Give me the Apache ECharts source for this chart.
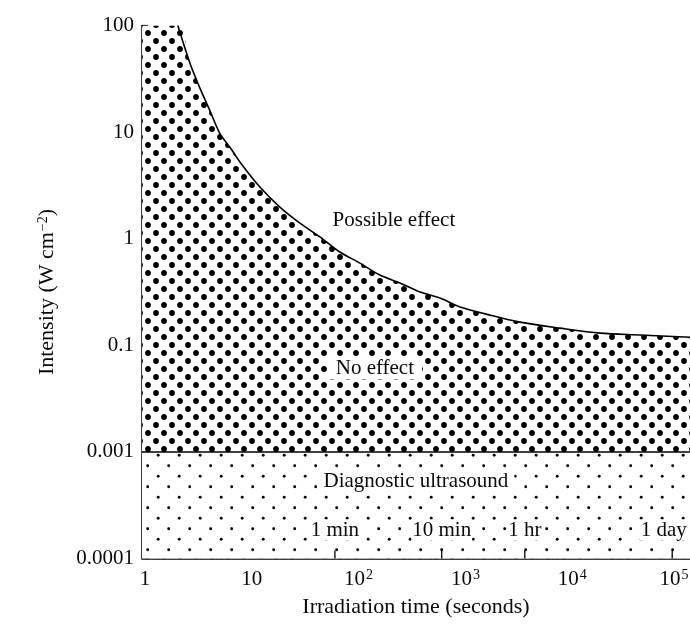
<!DOCTYPE html>
<html><head><meta charset="utf-8">
<script src="https://cdn.jsdelivr.net/npm/echarts@6/dist/echarts.min.js"></script>
<style>html,body{margin:0;padding:0;background:#fff}#c{width:690px;height:626px}</style>
</head><body><div id="c"></div>
<script>
// ---- data ----
const xTickValues = [1, 10, 100, 1000, 10000, 100000];
const yTickLabels = ['0.0001', '0.001', '0.1', '1', '10', '100'];
const yTickValues = [0.0001, 0.001, 0.1, 1, 10, 100];
const xRange = [0.937, 126800];
// threshold curve: irradiation time (s) vs intensity (W cm^-2)
const curveTime = [2.03, 2.63, 3.26, 4.04, 5.0, 6.5, 7.73, 11.9, 18.3, 28.2, 43.4, 66.7, 103, 158, 244, 376, 578, 891, 1700, 3240, 7670, 18200, 43100, 126800];
const curveIntensity = [100, 44.5, 26, 16, 9.8, 6.8, 5.25, 3.05, 1.98, 1.40, 1.04, 0.75, 0.59, 0.456, 0.384, 0.316, 0.278, 0.229, 0.192, 0.165, 0.145, 0.130, 0.125, 0.119];
const diagnosticLimit = 0.001;
const timeMarks = [60, 600, 3600, 86400];
const timeMarkNames = ['1 min', '10 min', '1 hr', '1 day'];
const timeMarkLabelTime = [60, 600, 3600, 72000];
const timeMarkLabelIntensity = 0.000185;
const regionNames = ['Possible effect', 'No effect', 'Diagnostic ultrasound'];
const regionLabelTime = [214, 142, 344];
const regionLabelIntensity = [1.47, 0.0375, 0.000533];

// map an intensity onto the (piecewise-labelled) vertical axis
function toPos(I) {
  const L = Math.log10(I);
  for (let i = 0; i < yTickValues.length - 1; i++) {
    const a = Math.log10(yTickValues[i]), b = Math.log10(yTickValues[i + 1]);
    if (L <= b + 1e-9 || i === yTickValues.length - 2) return i + (L - a) / (b - a);
  }
}

function makePattern(w, h, dots, r) {
  const c = document.createElement('canvas'); c.width = w; c.height = h;
  const g = c.getContext('2d');
  g.fillStyle = '#fff'; g.fillRect(0, 0, w, h);
  g.fillStyle = '#000';
  dots.forEach(([x, y]) => {
    for (let dx = -w; dx <= w; dx += w) for (let dy = -h; dy <= h; dy += h) {
      g.beginPath(); g.arc(x + dx, y + dy, r, 0, Math.PI * 2); g.fill();
    }
  });
  return c;
}
const densePat = makePattern(16, 16, [[12, 9], [4, 1]], 2.9);
const sparsePat = makePattern(21, 21, [[0.7, 3.7], [11.2, 14.2]], 1.45);

const FONT = 'Liberation Serif';
const TXT = '#0a0a0a';
const curveData = curveTime.map((t, i) => [t, toPos(curveIntensity[i])]);
const fillData = [[xRange[0], toPos(yTickValues[5])], [curveTime[0], toPos(yTickValues[5])]].concat(curveData);
const diagLine = [[xRange[0], toPos(diagnosticLimit)], [xRange[1], toPos(diagnosticLimit)]];

function xLabel(v) {
  const e = Math.round(Math.log10(v));
  if (Math.abs(Math.log10(v) - e) > 1e-6 || xTickValues.indexOf(Math.pow(10, e)) < 0) return '';
  if (e === 0) return '1';
  if (e === 1) return '10';
  if (e === xTickValues.length - 1) return '10{sup|' + e + '}{sp| }';
  return '10{sup|' + e + '}';
}

const chart = echarts.init(document.getElementById('c'));
chart.setOption({
  animation: false,
  backgroundColor: '#fff',
  grid: { left: 142, right: 0, top: 25.5, bottom: 67.5, containLabel: false, outerBoundsMode: 'none' },
  xAxis: {
    type: 'log', logBase: 10, min: xRange[0], max: xRange[1],
    name: 'Irradiation time (seconds)', nameLocation: 'middle', nameGap: 38,
    nameTextStyle: { fontFamily: FONT, fontSize: 22, color: TXT },
    axisLine: { show: true, lineStyle: { color: '#000', width: 1.5 } },
    axisTick: { show: true, inside: true, length: 7, lineStyle: { color: '#000', width: 1.2 } },
    minorTick: { show: false }, splitLine: { show: false }, minorSplitLine: { show: false },
    axisLabel: {
      margin: 10, fontFamily: FONT, fontSize: 21, color: TXT, formatter: xLabel,
      showMinLabel: true, showMaxLabel: true,
      rich: {
        sup: { fontFamily: FONT, fontSize: 14, color: TXT, verticalAlign: 'top', padding: [0, 0, 6, 1] },
        sp: { fontFamily: FONT, fontSize: 14, width: 10 }
      }
    }
  },
  yAxis: {
    type: 'value', min: 0, max: 5, interval: 1,
    name: 'Intensity (W cm{sup|\u22122})', nameLocation: 'middle', nameGap: 84, nameRotate: 90,
    nameTextStyle: { fontFamily: FONT, fontSize: 22, color: TXT,
      rich: { sup: { fontFamily: FONT, fontSize: 14, color: TXT, verticalAlign: 'top', padding: [0, 0, 8, 1] } } },
    axisLine: { show: true, lineStyle: { color: '#000', width: 1.5 } },
    axisTick: { show: true, inside: true, length: 6, lineStyle: { color: '#000', width: 1.2 } },
    splitLine: { show: false },
    axisLabel: { margin: 8, fontFamily: FONT, fontSize: 21, color: TXT, formatter: v => yTickLabels[Math.round(v)] }
  },
  series: [
    { type: 'line', data: fillData, symbol: 'none', z: 1, silent: true, smooth: 0.3,
      lineStyle: { width: 0, opacity: 0 },
      areaStyle: { color: { image: densePat, repeat: 'repeat' }, opacity: 1, origin: 'start' } },
    { type: 'line', data: diagLine, symbol: 'none', z: 2, silent: true,
      lineStyle: { color: '#000', width: 1.5 },
      areaStyle: { color: { image: sparsePat, repeat: 'repeat' }, opacity: 1, origin: 'start' } },
    { type: 'line', data: curveData, symbol: 'none', z: 3, smooth: 0.3, silent: true,
      lineStyle: { color: '#000', width: 1.6 } },
    { type: 'scatter', data: timeMarks.map(t => [t, 0]), symbol: 'rect', symbolSize: [1.3, 8], symbolOffset: [0, -4],
      itemStyle: { color: '#000', opacity: 1 }, z: 4, silent: true },
    { type: 'scatter', z: 5, silent: true, symbolSize: 1, itemStyle: { color: 'rgba(0,0,0,0)', opacity: 1 },
      data: timeMarkNames.map((n, i) => ({ name: n, value: [timeMarkLabelTime[i], toPos(timeMarkLabelIntensity)] })),
      label: { show: true, position: 'inside', formatter: '{b}', fontFamily: FONT, fontSize: 21, color: TXT,
        backgroundColor: '#fff', padding: [0, 1] } },
    { type: 'scatter', z: 5, silent: true, symbolSize: 1, itemStyle: { color: 'rgba(0,0,0,0)', opacity: 1 },
      data: regionNames.map((n, i) => ({ name: n, value: [regionLabelTime[i], toPos(regionLabelIntensity[i])],
        label: i === 0 ? {} : { backgroundColor: '#fff', padding: i === 1 ? [1, 8] : [1, 6] } })),
      label: { show: true, position: 'inside', formatter: '{b}', fontFamily: FONT, fontSize: 21, color: TXT } }
  ]
});
</script></body></html>
